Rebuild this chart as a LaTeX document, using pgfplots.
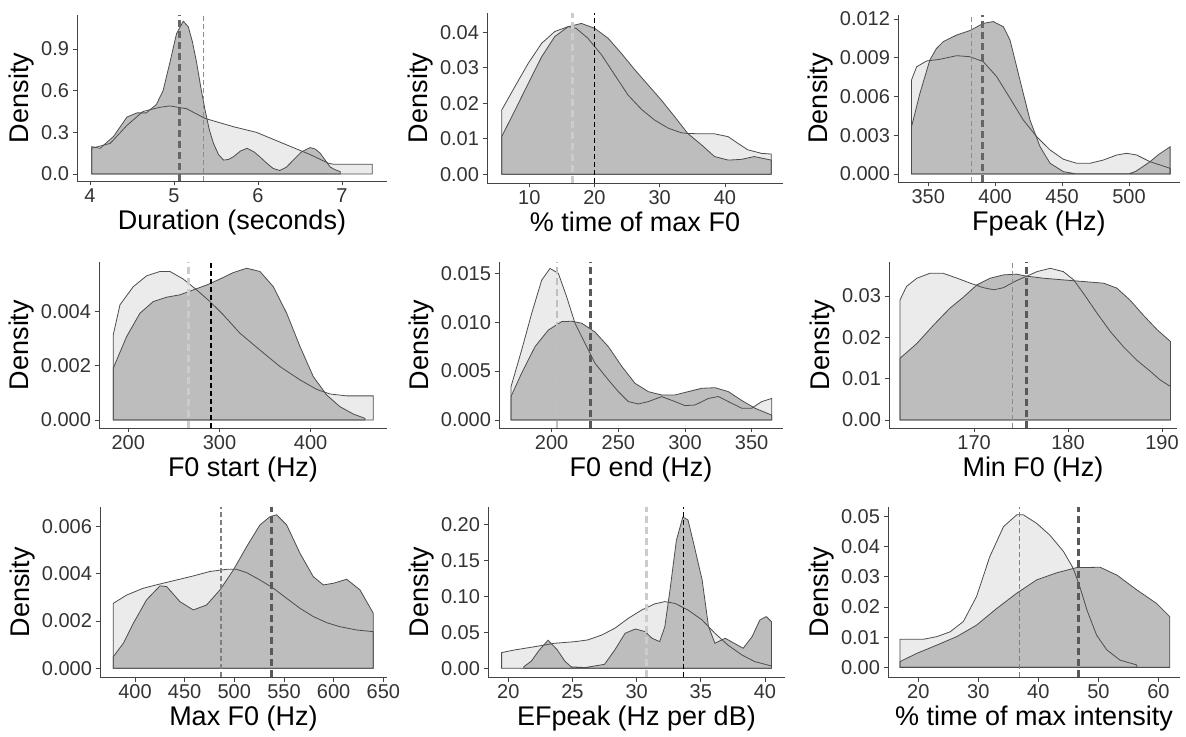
\documentclass[border=0pt]{standalone}
\usepackage{fontspec}
\setmainfont{Liberation Sans}
\usepackage{pgfplots}
\pgfplotsset{compat=1.18}

\definecolor{lightf}{HTML}{EBEBEB}
\definecolor{darkf}{HTML}{BDBDBD}
\definecolor{edge}{HTML}{4D4D4D}
\definecolor{axc}{HTML}{444444}
\definecolor{tkc}{HTML}{333333}

\newcommand\tk{\fontsize{20bp}{22bp}\selectfont}
\newcommand\ttl{\fontsize{27bp}{30bp}\selectfont}

\pgfplotsset{
  dens/.style={
    scale only axis, anchor=south west,
    axis lines=left,
    axis line style={-, draw=axc, line width=0.9bp},
    tick align=outside,
    major tick length=4.5bp,
    tick style={draw=axc, line width=0.9bp},
    scaled ticks=false,
    ticklabel style={font=\tk, text=tkc},
    xlabel style={font=\ttl},
    ylabel style={font=\ttl},
    ylabel={Density},
    clip=false,
  },
  lfill/.style={fill=lightf, draw=none, forget plot},
  dfill/.style={fill=darkf, draw=none, forget plot},
  edgel/.style={draw=edge, line width=0.8bp, fill=none, forget plot},
  mthick/.style={line width=2.8bp, dash pattern=on 7bp off 4bp, forget plot},
  mthin/.style={line width=1.1bp, dash pattern=on 5bp off 3bp, forget plot},
}

\begin{document}
\begin{tikzpicture}
\useasboundingbox (0,0) rectangle (1186bp,737bp);

% ---------- Duration
\begin{axis}[dens, at={(77bp,556bp)}, width=310bp, height=166bp,
  xmin=3.845, xmax=7.536, ymin=-0.0504, ymax=1.1447,
  xtick={4,5,6,7}, xticklabels={4,5,6,7},
  ytick={0,0.3,0.6,0.9}, yticklabels={0.0,0.3,0.6,0.9},
  xlabel={Duration (seconds)}]
\def\L{(4.02,0.185)(4.24,0.22)(4.44,0.35)(4.63,0.45)(4.83,0.48)(4.95,0.49)(5.15,0.47)(5.37,0.40)(5.71,0.34)(5.98,0.30)(6.30,0.22)(6.62,0.14)(6.84,0.077)(6.9,0.07)(7.36,0.07)}
\def\D{(4.02,0.197)(4.12,0.185)(4.28,0.27)(4.44,0.41)(4.56,0.44)(4.67,0.44)(4.79,0.50)(4.87,0.60)(4.95,0.80)(5.03,1.01)(5.11,1.10)(5.17,1.06)(5.22,0.95)(5.27,0.80)(5.32,0.62)(5.37,0.46)(5.42,0.32)(5.47,0.22)(5.53,0.14)(5.59,0.10)(5.65,0.105)(5.71,0.125)(5.79,0.165)(5.87,0.185)(5.95,0.16)(6.02,0.125)(6.10,0.08)(6.18,0.04)(6.26,0.025)(6.34,0.05)(6.42,0.10)(6.52,0.16)(6.62,0.19)(6.68,0.18)(6.74,0.15)(6.80,0.10)(6.86,0.05)(6.92,0.03)(6.98,0.017)}
\addplot[lfill] coordinates {\L} \closedcycle;
\addplot[dfill] coordinates {\D} \closedcycle;
\addplot[edgel] coordinates {\L} \closedcycle;
\addplot[edgel] coordinates {\D} \closedcycle;
\addplot[mthick, color=black!60] coordinates {(5.07,-0.0504)(5.07,1.1447)};
\addplot[mthin, color=black!45] coordinates {(5.35,-0.0504)(5.35,1.1447)};
\end{axis}

% ---------- % time of max F0
\begin{axis}[dens, at={(487bp,554bp)}, width=296bp, height=170bp,
  xmin=3.52, xmax=48.9, ymin=-0.00245, ymax=0.04544,
  xtick={10,20,30,40}, xticklabels={10,20,30,40},
  ytick={0,0.01,0.02,0.03,0.04}, yticklabels={0.00,0.01,0.02,0.03,0.04},
  xlabel={\% time of max F0}]
\def\L{(5.77,0.0181)(7.8,0.0247)(9.85,0.0313)(11.9,0.0369)(13.9,0.0402)(15.97,0.0416)(17.2,0.0411)(19.0,0.0383)(21.1,0.0336)(23.1,0.028)(25.15,0.0223)(27.2,0.0183)(29.2,0.0153)(31.3,0.013)(33.3,0.0117)(34.3,0.0115)(36.4,0.0114)(38.4,0.0114)(40.5,0.0106)(42.0,0.0087)(43.5,0.0069)(45.6,0.0059)(47.1,0.0057)}
\def\D{(5.77,0.0106)(7.8,0.018)(9.85,0.0256)(11.9,0.0331)(13.9,0.0388)(15.97,0.0416)(18.0,0.0425)(20.05,0.0411)(22.1,0.0383)(24.1,0.0341)(26.2,0.0294)(28.2,0.0252)(30.25,0.0209)(32.3,0.0162)(34.3,0.0115)(36.4,0.0083)(38.4,0.005)(40.5,0.004)(42.5,0.0042)(44.5,0.005)(47.1,0.004)}
\addplot[lfill] coordinates {\L} \closedcycle;
\addplot[dfill] coordinates {\D} \closedcycle;
\addplot[edgel] coordinates {\L} \closedcycle;
\addplot[edgel] coordinates {\D} \closedcycle;
\addplot[mthick, color=black!20] coordinates {(16.6,-0.00245)(16.6,0.04544)};
\addplot[mthin, color=black] coordinates {(20.05,-0.00245)(20.05,0.04544)};
\end{axis}

% ---------- Fpeak
\begin{axis}[dens, at={(898bp,555bp)}, width=282bp, height=167bp,
  xmin=327.4, xmax=538.1, ymin=-0.00062, ymax=0.01231,
  xtick={350,400,450,500}, xticklabels={350,400,450,500},
  ytick={0,0.003,0.006,0.009,0.012}, yticklabels={0.000,0.003,0.006,0.009,0.012},
  xlabel={Fpeak (Hz)}]
\def\L{(337.5,0.00728)(341.3,0.0083)(348.8,0.00875)(358.7,0.00888)(371.2,0.00916)(381.1,0.00908)(391.1,0.0087)(401.1,0.00754)(411.1,0.00586)(421,0.00418)(431,0.00289)(441,0.00186)(451,0.00114)(460.9,0.00083)(470.9,0.00083)(480.8,0.00108)(490.8,0.00147)(498.3,0.0016)(505.7,0.00147)(515.7,0.00095)(530.7,0.00044)}
\def\D{(337.5,0.00366)(343.8,0.00625)(351.2,0.00883)(356,0.0097)(361.2,0.01025)(371.2,0.01076)(381.1,0.0111)(391.1,0.01166)(398.6,0.0118)(406.1,0.0114)(411.1,0.01037)(418.5,0.00728)(426,0.00418)(433.5,0.00212)(441,0.00083)(451,0.00018)(460,0.00002)(500,0.00002)(505,0.0002)(515,0.0009)(522,0.0015)(530.7,0.0021)}
\addplot[lfill] coordinates {\L} \closedcycle;
\addplot[dfill] coordinates {\D} \closedcycle;
\addplot[edgel] coordinates {\L} \closedcycle;
\addplot[edgel] coordinates {\D} \closedcycle;
\addplot[mthin, color=black!45] coordinates {(382.4,-0.00062)(382.4,0.01231)};
\addplot[mthick, color=black!60] coordinates {(390.6,-0.00062)(390.6,0.01231)};
\end{axis}

% ---------- F0 start
\begin{axis}[dens, at={(99bp,309bp)}, width=288bp, height=166bp,
  xmin=167.9, xmax=483.7, ymin=-0.000295, ymax=0.00583,
  xtick={200,300,400}, xticklabels={200,300,400},
  ytick={0,0.002,0.004}, yticklabels={0.000,0.002,0.004},
  xlabel={F0 start (Hz)}]
\def\L{(183.5,0.00314)(190.9,0.00425)(205.5,0.00492)(220.1,0.00532)(234.7,0.00548)(245.7,0.00548)(260.3,0.0052)(275,0.0048)(289.6,0.00437)(304.2,0.00388)(322.5,0.0032)(344.4,0.00258)(366.4,0.00197)(388.3,0.00148)(406.6,0.00113)(421.2,0.00096)(439.5,0.00089)(468.7,0.00089)}
\def\D{(183.5,0.00191)(198.2,0.00308)(212.8,0.00394)(227.4,0.00437)(242,0.00453)(256.7,0.00462)(271.3,0.0048)(285.9,0.00498)(300.5,0.0052)(315.2,0.00544)(329.8,0.0056)(344.4,0.00548)(359,0.00492)(373.7,0.00394)(388.3,0.00271)(402.9,0.0016)(417.6,0.00092)(432.2,0.00049)(446.8,0.00022)(459.6,0.00006)}
\addplot[lfill] coordinates {\L} \closedcycle;
\addplot[dfill] coordinates {\D} \closedcycle;
\addplot[edgel] coordinates {\L} \closedcycle;
\addplot[edgel] coordinates {\D} \closedcycle;
\addplot[mthick, color=black!20] coordinates {(265.8,-0.000295)(265.8,0.00583)};
\addplot[mthin, color=black] coordinates {(290.7,-0.000295)(290.7,0.00583)};
\end{axis}

% ---------- F0 end
\begin{axis}[dens, at={(499bp,309bp)}, width=284bp, height=166bp,
  xmin=160.5, xmax=373.5, ymin=-0.00082, ymax=0.01616,
  xtick={200,250,300,350}, xticklabels={200,250,300,350},
  ytick={0,0.005,0.01,0.015}, yticklabels={0.000,0.005,0.010,0.015},
  xlabel={F0 end (Hz)}]
\def\L{(169.5,0.0034)(177.5,0.00716)(185,0.0109)(192.5,0.0143)(198.75,0.0155)(205,0.015)(211.25,0.0126)(217.5,0.0099)(225,0.00784)(232.5,0.0058)(242.5,0.0041)(250,0.0029)(257.5,0.00188)(265,0.00164)(272.5,0.00188)(282.5,0.00239)(292.5,0.00188)(300,0.00147)(307.5,0.00153)(317.5,0.0022)(325,0.0024)(332.5,0.00188)(342.5,0.0012)(350,0.0012)(357.5,0.00188)(365,0.0022)}
\def\D{(169.5,0.0024)(177.5,0.0048)(187.5,0.0075)(197.5,0.0092)(207.5,0.01006)(215,0.0101)(222.5,0.0099)(232.5,0.009)(242.5,0.0075)(252.5,0.0055)(262.5,0.00375)(272.5,0.0029)(282.5,0.00256)(292.5,0.00256)(302.5,0.0029)(312.5,0.00324)(322.5,0.0033)(332.5,0.0029)(342.5,0.002)(352.5,0.0012)(365,0.0005)}
\addplot[lfill] coordinates {\L} \closedcycle;
\addplot[dfill] coordinates {\D} \closedcycle;
\addplot[edgel] coordinates {\L} \closedcycle;
\addplot[edgel] coordinates {\D} \closedcycle;
\addplot[mthick, line width=2bp, color=black!25] coordinates {(204.25,-0.00082)(204.25,0.01616)};
\addplot[mthick, color=black!65] coordinates {(229.25,-0.00082)(229.25,0.01616)};
\end{axis}

% ---------- Min F0
\begin{axis}[dens, at={(889bp,309bp)}, width=288bp, height=166bp,
  xmin=160.94, xmax=191.6, ymin=-0.00194, ymax=0.03823,
  xtick={170,180,190}, xticklabels={170,180,190},
  ytick={0,0.01,0.02,0.03}, yticklabels={0.00,0.01,0.02,0.03},
  xlabel={Min F0 (Hz)}]
\def\L{(162.1,0.029)(162.8,0.0323)(163.9,0.0343)(165.3,0.0355)(166.7,0.0355)(168.2,0.0343)(169.6,0.0331)(171,0.032)(172.1,0.0315)(173.1,0.032)(174.5,0.0337)(175.6,0.0348)(176.7,0.0359)(178.1,0.0367)(179.5,0.0359)(180.6,0.0339)(181.65,0.0306)(183.1,0.0258)(184.5,0.0214)(185.9,0.0177)(187.3,0.0145)(188.8,0.0117)(189.8,0.0097)(190.9,0.0081)}
\def\D{(162.1,0.0149)(163.9,0.0185)(165.7,0.023)(167.4,0.027)(168.9,0.0298)(170.3,0.0327)(171.7,0.0343)(173.1,0.0351)(174.5,0.0353)(175.6,0.0348)(177.4,0.0343)(179.5,0.0339)(181.65,0.0335)(183.8,0.0331)(185.2,0.0319)(186.6,0.029)(188,0.0254)(189.5,0.0218)(190.9,0.019)}
\addplot[lfill] coordinates {\L} \closedcycle;
\addplot[dfill] coordinates {\D} \closedcycle;
\addplot[edgel] coordinates {\L} \closedcycle;
\addplot[edgel] coordinates {\D} \closedcycle;
\addplot[mthin, color=black!45] coordinates {(174.1,-0.00194)(174.1,0.03823)};
\addplot[mthick, color=black!65] coordinates {(175.6,-0.00194)(175.6,0.03823)};
\end{axis}

% ---------- Max F0
\begin{axis}[dens, at={(100bp,60bp)}, width=287bp, height=170bp,
  xmin=364.8, xmax=653.7, ymin=-0.00037, ymax=0.00683,
  xtick={400,450,500,550,600,650}, xticklabels={400,450,500,550,600,650},
  ytick={0,0.002,0.004,0.006}, yticklabels={0.000,0.002,0.004,0.006},
  xlabel={Max F0 (Hz)}]
\def\L{(378.2,0.00275)(391.6,0.0031)(408.4,0.00339)(425.2,0.00357)(442,0.00374)(458.7,0.00391)(475.5,0.0041)(492.3,0.00419)(502.3,0.00419)(512.4,0.00405)(525.8,0.00374)(539.3,0.00339)(552.7,0.00296)(566.1,0.00254)(579.5,0.00219)(593,0.00193)(606.4,0.00176)(623.2,0.00162)(639.9,0.00155)}
\def\D{(378.2,0.00049)(388.3,0.00106)(398.3,0.0019)(411.7,0.0029)(425.2,0.00349)(431.9,0.00346)(445.3,0.00282)(458.7,0.00247)(472.1,0.00268)(485.6,0.00332)(499,0.00416)(512.4,0.00515)(525.8,0.00607)(535.9,0.00642)(542.6,0.0065)(552.7,0.00607)(566.1,0.00487)(579.5,0.00388)(589.6,0.00353)(599.7,0.0036)(613.1,0.00377)(626.5,0.00332)(639.9,0.00233)}
\addplot[lfill] coordinates {\L} \closedcycle;
\addplot[dfill] coordinates {\D} \closedcycle;
\addplot[edgel] coordinates {\L} \closedcycle;
\addplot[edgel] coordinates {\D} \closedcycle;
\addplot[mthin, color=black!50] coordinates {(486.6,-0.00037)(486.6,0.00683)};
\addplot[mthick, color=black!65] coordinates {(537.6,-0.00037)(537.6,0.00683)};
\end{axis}

% ---------- EFpeak
\begin{axis}[dens, at={(488bp,60bp)}, width=297bp, height=170bp,
  xmin=18.42, xmax=41.56, ymin=-0.0121, ymax=0.224,
  xtick={20,25,30,35,40}, xticklabels={20,25,30,35,40},
  ytick={0,0.05,0.1,0.15,0.2}, yticklabels={0.00,0.05,0.10,0.15,0.20},
  xlabel={EFpeak (Hz per dB)}]
\def\L{(19.48,0.0218)(20.5,0.0255)(22.1,0.0301)(23.6,0.0347)(25.2,0.037)(26.2,0.0394)(27.3,0.0463)(28.3,0.0556)(29.35,0.0694)(30.4,0.081)(31.4,0.0894)(32.2,0.0926)(33.0,0.09)(34.0,0.081)(35.1,0.0671)(36.1,0.0486)(37.1,0.0324)(38.2,0.0185)(39.2,0.0093)(40.5,0.0032)}
\def\D{(21.2,0.002)(21.8,0.01)(22.4,0.025)(23.1,0.039)(23.8,0.026)(24.4,0.01)(24.9,0.002)(26,0.001)(27.5,0.0055)(28.3,0.0255)(29.1,0.0486)(29.9,0.0546)(30.65,0.051)(31.2,0.0417)(31.8,0.037)(32.2,0.058)(32.6,0.109)(33.1,0.178)(33.6,0.21)(34.0,0.206)(34.5,0.169)(35.1,0.123)(35.6,0.058)(36.1,0.0347)(36.9,0.0417)(37.7,0.0338)(38.3,0.0278)(39.0,0.044)(39.6,0.0671)(40.1,0.0718)(40.5,0.0648)}
\addplot[lfill] coordinates {\L} \closedcycle;
\addplot[dfill] coordinates {\D} \closedcycle;
\addplot[edgel] coordinates {\L} \closedcycle;
\addplot[edgel] coordinates {\D} \closedcycle;
\addplot[mthick, color=black!20] coordinates {(30.78,-0.0121)(30.78,0.224)};
\addplot[mthin, color=black] coordinates {(33.64,-0.0121)(33.64,0.224)};
\end{axis}

% ---------- % time of max intensity
\begin{axis}[dens, at={(888bp,60bp)}, width=292bp, height=170bp,
  xmin=14.95, xmax=63.6, ymin=-0.0032, ymax=0.0532,
  xtick={20,30,40,50,60}, xticklabels={20,30,40,50,60},
  ytick={0,0.01,0.02,0.03,0.04,0.05}, yticklabels={0.00,0.01,0.02,0.03,0.04,0.05},
  xlabel={\% time of max intensity}]
\def\L{(16.94,0.0093)(18.6,0.0093)(20.8,0.0093)(23.1,0.0102)(25.3,0.0118)(27.5,0.0152)(29.7,0.0235)(31.9,0.0367)(34.2,0.0467)(36.4,0.0506)(37.5,0.0506)(39.7,0.0478)(41.9,0.0439)(44.2,0.0384)(45.8,0.0329)(46.9,0.0268)(48.1,0.019)(49.7,0.0107)(51.4,0.0058)(53.6,0.0024)(56.4,0.0008)}
\def\D{(16.94,0.0019)(19.7,0.0046)(23.1,0.0074)(26.4,0.0102)(29.7,0.014)(33.1,0.0196)(36.4,0.0246)(39.7,0.029)(43.1,0.0314)(46.4,0.0331)(50.3,0.0332)(53.1,0.0306)(56.4,0.0257)(59.7,0.0212)(61.9,0.0168)}
\addplot[lfill] coordinates {\L} \closedcycle;
\addplot[dfill] coordinates {\D} \closedcycle;
\addplot[edgel] coordinates {\L} \closedcycle;
\addplot[edgel] coordinates {\D} \closedcycle;
\addplot[mthin, color=black!50] coordinates {(36.9,-0.0032)(36.9,0.0532)};
\addplot[mthick, color=black!65] coordinates {(46.7,-0.0032)(46.7,0.0532)};
\end{axis}

\end{tikzpicture}
\end{document}
